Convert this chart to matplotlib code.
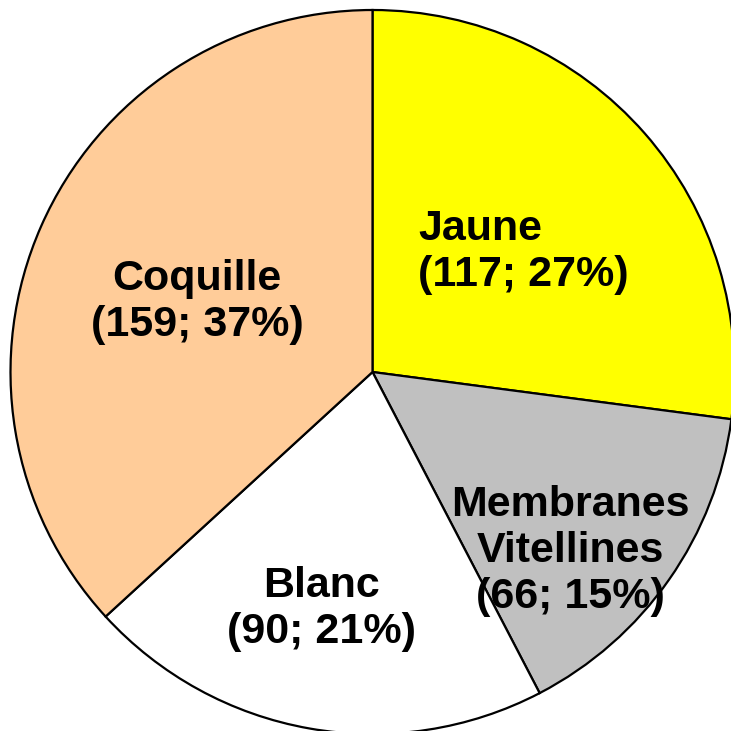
import matplotlib
matplotlib.use("Agg")
import matplotlib.pyplot as plt

categories = ["Jaune", "Membranes\nVitellines", "Blanc", "Coquille"]
values = [117, 66, 90, 159]
percents = [27, 15, 21, 37]
colors = ["#FFFF00", "#C0C0C0", "#FFFFFF", "#FFCC99"]

W = H = 731
dpi = 100
fig = plt.figure(figsize=(W / dpi, H / dpi), dpi=dpi)
ax = fig.add_axes([0, 0, 1, 1])
ax.set_axis_off()

cx, cy, R = 372.5, 372, 362.0
ax.pie(values, colors=colors, startangle=90, counterclock=False,
       radius=1.0, center=(0, 0),
       wedgeprops=dict(edgecolor="black", linewidth=1.6))
ax.set_aspect("equal")
ax.set_xlim(-cx / R, (W - cx) / R)
ax.set_ylim(-(H - cy) / R, cy / R)

# (x, y, ha, multialignment)
label_pos = [((418 - cx) / R, (cy - 252) / R, "left"),
             ((570 - cx) / R, (cy - 551) / R, "center"),
             ((321 - cx) / R, (cy - 609) / R, "center"),
             ((197 - cx) / R, (cy - 302) / R, "center")]
for cat, v, p, (x, y, ha) in zip(categories, values, percents, label_pos):
    ax.text(x, y, f"{cat}\n({v}; {p}%)", ha=ha, va="center",
            multialignment=ha,
            fontsize=31, fontweight="bold", family="Liberation Sans",
            linespacing=1.2)

fig.savefig("out.png", dpi=dpi)
